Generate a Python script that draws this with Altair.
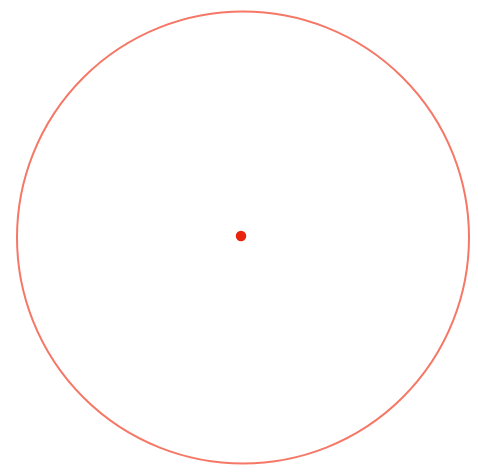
import altair as alt
import pandas as pd

# Values (image pixel coordinates)
ring_x = [243]
ring_y = [237.5]
ring_diameter = [452]

dot_x = [241]
dot_y = [236]

ring = pd.DataFrame({"x": ring_x, "y": ring_y, "d": ring_diameter})
dot = pd.DataFrame({"x": dot_x, "y": dot_y})

W, H = 462, 459
xs = alt.Scale(domain=[8, 8 + W], nice=False, zero=False)
ys = alt.Scale(domain=[8, 8 + H], nice=False, zero=False, reverse=True)

ring_layer = alt.Chart(ring).mark_point(
    shape="circle", filled=False, stroke="#f2442c", strokeWidth=2.0, opacity=0.72
).encode(
    x=alt.X("x:Q", scale=xs, axis=None),
    y=alt.Y("y:Q", scale=ys, axis=None),
    size=alt.Size("d:Q", scale=alt.Scale(type="pow", exponent=2, domain=[0, 452], range=[0, 452 * 452]), legend=None),
)

dot_layer = alt.Chart(dot).mark_point(
    shape="circle", filled=True, color="#e8240c", size=110, opacity=1
).encode(
    x=alt.X("x:Q", scale=xs, axis=None),
    y=alt.Y("y:Q", scale=ys, axis=None),
)

chart = alt.layer(ring_layer, dot_layer).properties(
    width=W, height=H, padding=0, autosize=alt.AutoSizeParams(type="none"), background="white"
).configure_view(stroke=None)

chart.save("out.html", embed_options={"renderer": "svg", "actions": False})
